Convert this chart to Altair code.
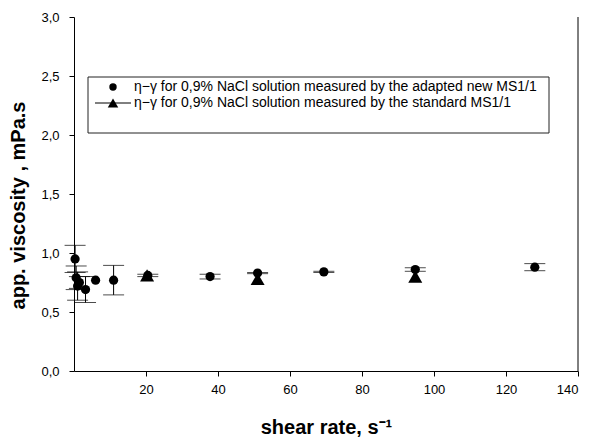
import altair as alt
import pandas as pd

# adapted new MS1/1 (circles)
new_rate = [0.3, 0.6, 1.0, 1.5, 3.2, 6.0, 11.0, 20.5, 37.8, 51.0, 69.4, 94.8, 128.0]
new_visc = [0.95, 0.79, 0.72, 0.75, 0.69, 0.77, 0.77, 0.81, 0.80, 0.83, 0.84, 0.86, 0.88]
new_err = [0.115, 0.10, 0.12, 0.05, 0.11, 0.0, 0.125, 0.01, 0.02, 0.005, 0.005, 0.015, 0.03]

# standard MS1/1 (triangles)
std_rate = [20.3, 51.0, 94.8]
std_visc = [0.81, 0.78, 0.80]
std_err = [0.0, 0.0, 0.0]

x_ticks = [20, 40, 60, 80, 100, 120, 140]
y_ticks = [0.0, 0.5, 1.0, 1.5, 2.0, 2.5, 3.0]

legend_labels = [
    "η−γ  for 0,9% NaCl solution measured by the adapted new MS1/1",
    "η−γ  for 0,9% NaCl solution measured by the standard MS1/1",
]

rows = []
for r, v, e in zip(new_rate, new_visc, new_err):
    rows.append({"series": "new", "rate": r, "visc": v, "lo": v - e, "hi": v + e})
for r, v, e in zip(std_rate, std_visc, std_err):
    rows.append({"series": "std", "rate": r, "visc": v, "lo": v - e, "hi": v + e})
df = pd.DataFrame(rows)

FONT = "Liberation Sans"
XT = "shear rate, s⁻¹"
YT = "app. viscosity , mPa.s"

x_scale = alt.Scale(domain=[0, 140], nice=False, zero=False)
y_scale = alt.Scale(domain=[0, 3], nice=False)

x_axis = alt.Axis(values=x_ticks, format="d", labelPadding=7, titlePadding=21)
y_axis = alt.Axis(
    values=y_ticks,
    labelExpr="replace(format(datum.value, '.1f'), '.', ',')",
    labelPadding=10,
    titlePadding=12,
    titleY=188,
)

base = alt.Chart(df)

rules = base.mark_rule(color="black", strokeWidth=1).encode(
    x=alt.X("rate:Q", scale=x_scale, axis=x_axis, title=XT),
    y=alt.Y("lo:Q", scale=y_scale, axis=y_axis, title=YT),
    y2="hi:Q",
)

caps = base.transform_filter("datum.hi - datum.lo > 0.001").transform_fold(
    ["lo", "hi"], as_=["which", "cap"]
).mark_tick(orient="horizontal", size=21, thickness=1, color="black").encode(
    x=alt.X("rate:Q", scale=x_scale, axis=x_axis, title=XT),
    y=alt.Y("cap:Q", scale=y_scale, axis=y_axis, title=YT),
)

circles = base.transform_filter("datum.series == 'new'").mark_point(
    shape="circle", filled=True, size=85, color="black", opacity=1
).encode(
    x=alt.X("rate:Q", scale=x_scale, axis=x_axis, title=XT),
    y=alt.Y("visc:Q", scale=y_scale, axis=y_axis, title=YT),
)

triangles = base.transform_filter("datum.series == 'std'").mark_point(
    shape="triangle-up", filled=True, size=196, color="black", opacity=1
).encode(
    x=alt.X("rate:Q", scale=x_scale, axis=x_axis, title=XT),
    y=alt.Y("visc:Q", scale=y_scale, axis=y_axis, title=YT),
)

one = pd.DataFrame({"k": [0]})
right_frame = alt.Chart(one).mark_rule(color="black", strokeWidth=1).encode(
    x=alt.value(504), y=alt.value(0), y2=alt.value(354)
)
leg_box = alt.Chart(one).mark_rect(fill="white", stroke="#222222", strokeWidth=1).encode(
    x=alt.value(14), x2=alt.value(475), y=alt.value(60), y2=alt.value(116)
)
leg_circle = alt.Chart(one).mark_point(
    shape="circle", filled=True, size=55, color="black", opacity=1
).encode(x=alt.value(39), y=alt.value(70))
leg_line = alt.Chart(one).mark_rule(color="black", strokeWidth=1).encode(
    x=alt.value(21), x2=alt.value(57), y=alt.value(86)
)
leg_tri = alt.Chart(one).mark_point(
    shape="triangle-up", filled=True, size=110, color="black", opacity=1
).encode(x=alt.value(39), y=alt.value(86))
leg_t1 = alt.Chart(one).mark_text(
    text=legend_labels[0], align="left", baseline="middle", fontSize=14, font=FONT, color="black"
).encode(x=alt.value(60), y=alt.value(70))
leg_t2 = alt.Chart(one).mark_text(
    text=legend_labels[1], align="left", baseline="middle", fontSize=14, font=FONT, color="black"
).encode(x=alt.value(60), y=alt.value(86))

chart = alt.layer(
    rules, caps, circles, triangles, right_frame,
    leg_box, leg_circle, leg_line, leg_tri, leg_t1, leg_t2
).properties(
    width=504,
    height=354,
    padding={"left": 0, "top": 3, "right": 0, "bottom": 0},
    background="white",
).configure_view(
    strokeWidth=0
).configure_axis(
    grid=False,
    domainColor="black",
    tickColor="black",
    tickSize=5,
    labelFont=FONT,
    labelFontSize=13,
    labelColor="black",
    titleFont=FONT,
    titleFontSize=20,
    titleFontWeight="bold",
    titleColor="black",
)

chart.save("out.html", embed_options={"renderer": "svg", "actions": False})
